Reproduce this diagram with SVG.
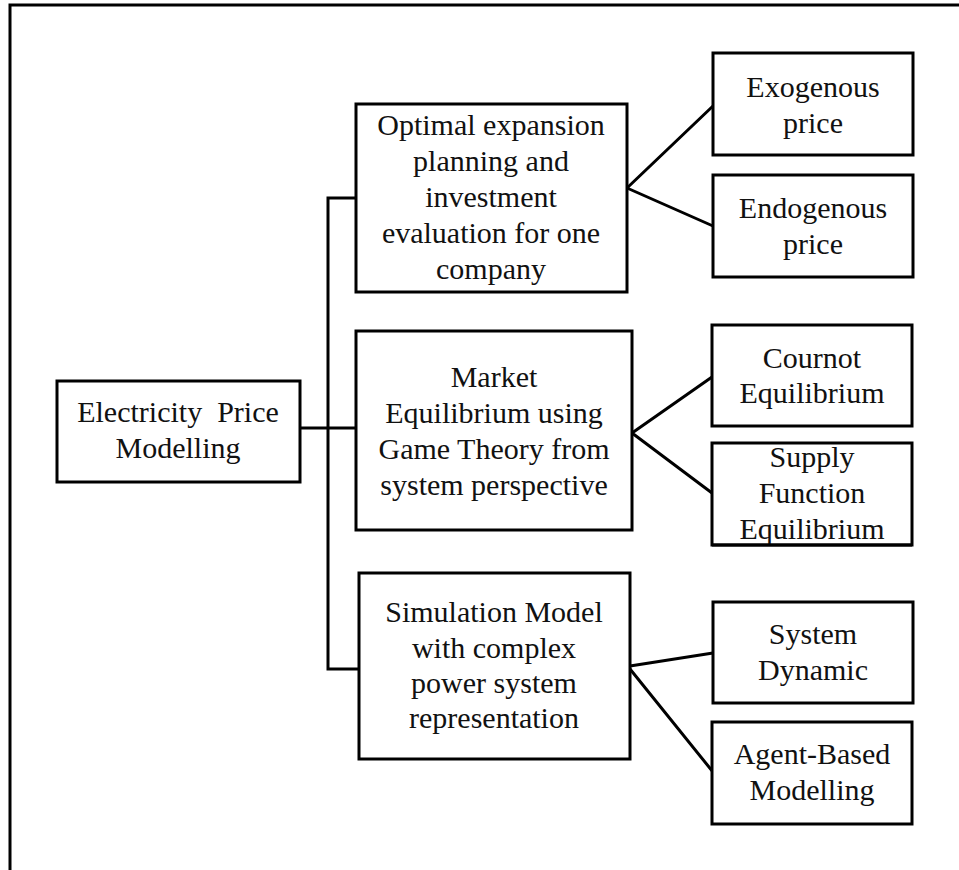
<svg xmlns="http://www.w3.org/2000/svg" width="959" height="870" viewBox="0 0 959 870">
<style>
.box{fill:#fff;stroke:#000;stroke-width:3}
.t{font-family:"Liberation Serif","Times New Roman",serif;font-size:30px;fill:#111;text-anchor:middle}
.c{fill:none;stroke:#000;stroke-width:3}
</style>
<defs>
<clipPath id="clipSupply"><rect x="712" y="443" width="200" height="101"/></clipPath>
</defs>
<rect x="0" y="0" width="959" height="870" fill="#fff"/>
<g id="frame"><path class="c" d="M10,870 V5 H959" stroke-width="2.5"/></g>
<g id="connectors">
<path class="c" d="M300,428 H358"/>
<path class="c" d="M356,198 H328 V669 H359"/>
<path class="c" d="M627,188 L713,106 M627,188 L713,226"/>
<path class="c" d="M632,433 L712,377 M632,433 L712,493"/>
<path class="c" d="M630,666 L713,653 M630,669 L713,772"/>
</g>
<g id="root">
<rect class="box" x="57" y="381" width="243" height="101"/>
<text class="t" x="178" y="422" xml:space="preserve">Electricity  Price</text>
<text class="t" x="178" y="458">Modelling</text>
</g>
<g id="optimal">
<rect class="box" x="356" y="104" width="271" height="188"/>
<text class="t" x="491" y="135">Optimal expansion</text>
<text class="t" x="491" y="171">planning and</text>
<text class="t" x="491" y="207">investment</text>
<text class="t" x="491" y="243">evaluation for one</text>
<text class="t" x="491" y="279">company</text>
</g>
<g id="market">
<rect class="box" x="356" y="331" width="276" height="199"/>
<text class="t" x="494" y="387">Market</text>
<text class="t" x="494" y="423">Equilibrium using</text>
<text class="t" x="494" y="459">Game Theory from</text>
<text class="t" x="494" y="495">system perspective</text>
</g>
<g id="simulation">
<rect class="box" x="359" y="573" width="271" height="186"/>
<text class="t" x="494" y="622">Simulation Model</text>
<text class="t" x="494" y="658">with complex</text>
<text class="t" x="494" y="693">power system</text>
<text class="t" x="494" y="728">representation</text>
</g>
<g id="exogenous">
<rect class="box" x="713" y="53" width="200" height="102"/>
<text class="t" x="813" y="97">Exogenous</text>
<text class="t" x="813" y="133">price</text>
</g>
<g id="endogenous">
<rect class="box" x="713" y="175" width="200" height="102"/>
<text class="t" x="813" y="218">Endogenous</text>
<text class="t" x="813" y="254">price</text>
</g>
<g id="cournot">
<rect class="box" x="712" y="325" width="200" height="101"/>
<text class="t" x="812" y="368">Cournot</text>
<text class="t" x="812" y="403">Equilibrium</text>
</g>
<g id="supply">
<rect class="box" x="712" y="443" width="200" height="102"/>
<g clip-path="url(#clipSupply)">
<text class="t" x="812" y="467">Supply</text>
<text class="t" x="812" y="503">Function</text>
<text class="t" x="812" y="539">Equilibrium</text>
</g>
<path class="c" d="M712,545 H912"/>
</g>
<g id="sysdyn">
<rect class="box" x="713" y="602" width="200" height="101"/>
<text class="t" x="813" y="644">System</text>
<text class="t" x="813" y="680">Dynamic</text>
</g>
<g id="agent">
<rect class="box" x="712" y="722" width="200" height="102"/>
<text class="t" x="812" y="764">Agent-Based</text>
<text class="t" x="812" y="800">Modelling</text>
</g>
</svg>
